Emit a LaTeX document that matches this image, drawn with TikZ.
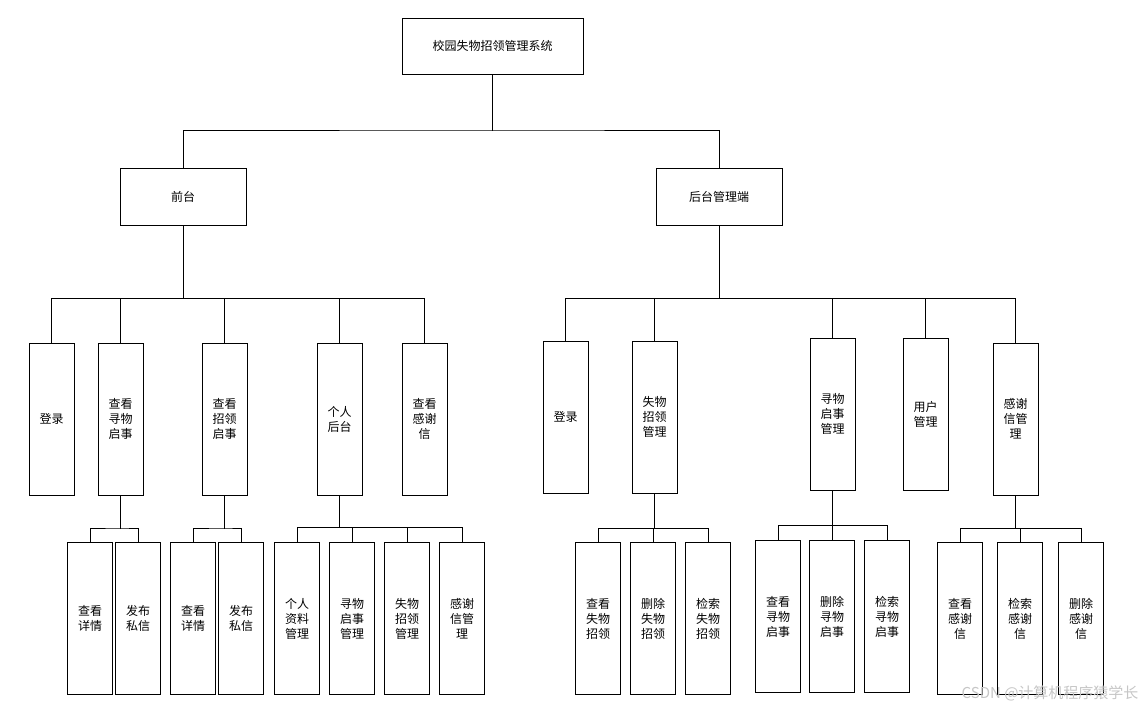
\documentclass[tikz,border=0pt]{standalone}
\usepackage{fontspec}
\newfontfamily\cjk{Noto Sans CJK SC}
\begin{document}
\begin{tikzpicture}[x=1pt,y=-1pt,
  box/.style={draw,fill=white,font=\cjk\fontsize{12}{15}\selectfont,align=center,inner sep=0pt},
  v/.style={box,minimum width=45pt,minimum height=152pt},
  w/.style={box,minimum width=126pt,minimum height=57pt},
  ln/.style={draw,line width=0.8pt}]
\useasboundingbox (0,0) rectangle (1145,714);
\node[box,minimum width=181pt,minimum height=56pt] (root) at (492.5,46) {校园失物招领管理系统};
\node[w] (f) at (183,196.5) {前台};
\node[w] (b) at (719,196.5) {后台管理端};
% front level2
\node[v] (f1) at (51.5,419) {登录};
\node[v] (f2) at (120.5,419) {查看\\寻物\\启事};
\node[v] (f3) at (224.5,419) {查看\\招领\\启事};
\node[v] (f4) at (339.5,419) {个人\\后台};
\node[v] (f5) at (424.5,419) {查看\\感谢\\信};
% back level2
\node[v] (b1) at (565.5,417) {登录};
\node[v] (b2) at (654.5,417) {失物\\招领\\管理};
\node[v] (b3) at (832.5,414) {寻物\\启事\\管理};
\node[v] (b4) at (925.5,414) {用户\\管理};
\node[v] (b5) at (1015.5,419) {感谢\\信管\\理};
% level3
\node[v] (a1) at (90,618.5) {查看\\详情};
\node[v] (a2) at (138,618.5) {发布\\私信};
\node[v] (c1) at (193,618.5) {查看\\详情};
\node[v] (c2) at (241,618.5) {发布\\私信};
\node[v] (d1) at (297,618.5) {个人\\资料\\管理};
\node[v] (d2) at (352,618.5) {寻物\\启事\\管理};
\node[v] (d3) at (407,618.5) {失物\\招领\\管理};
\node[v] (d4) at (462,618.5) {感谢\\信管\\理};
\node[v] (e1) at (598,618.5) {查看\\失物\\招领};
\node[v] (e2) at (653,618.5) {删除\\失物\\招领};
\node[v] (e3) at (708,618.5) {检索\\失物\\招领};
\node[v] (g1) at (778,616.5) {查看\\寻物\\启事};
\node[v] (g2) at (832,616.5) {删除\\寻物\\启事};
\node[v] (g3) at (887,616.5) {检索\\寻物\\启事};
\node[v] (h1) at (960,618.5) {查看\\感谢\\信};
\node[v] (h2) at (1020,618.5) {检索\\感谢\\信};
\node[v] (h3) at (1081,618.5) {删除\\感谢\\信};
% connectors
\foreach \c in {f,b} \draw[ln] (root.south) |- (492,130) -| (\c.north);
\foreach \c in {f1,f2,f3,f4,f5} \draw[ln] (f.south) |- (183,298) -| (\c.north);
\foreach \c in {b1,b2,b3,b4,b5} \draw[ln] (b.south) |- (719,298) -| (\c.north);
\foreach \c in {a1,a2} \draw[ln] (f2.south) |- (120,528) -| (\c.north);
\foreach \c in {c1,c2} \draw[ln] (f3.south) |- (224,528) -| (\c.north);
\foreach \c in {d1,d2,d3,d4} \draw[ln] (f4.south) |- (339.5,527) -| (\c.north);
\foreach \c in {e1,e2,e3} \draw[ln] (b2.south) |- (654.5,528) -| (\c.north);
\foreach \c in {g1,g2,g3} \draw[ln] (b3.south) |- (832.5,525) -| (\c.north);
\foreach \c in {h1,h2,h3} \draw[ln] (b5.south) |- (1015.5,528) -| (\c.north);
\node[font=\cjk\fontsize{15}{15}\selectfont,text=gray!45,anchor=east] (wm) at (1142,693) {CSDN @计算机程序猿学长};
\end{tikzpicture}
\end{document}
